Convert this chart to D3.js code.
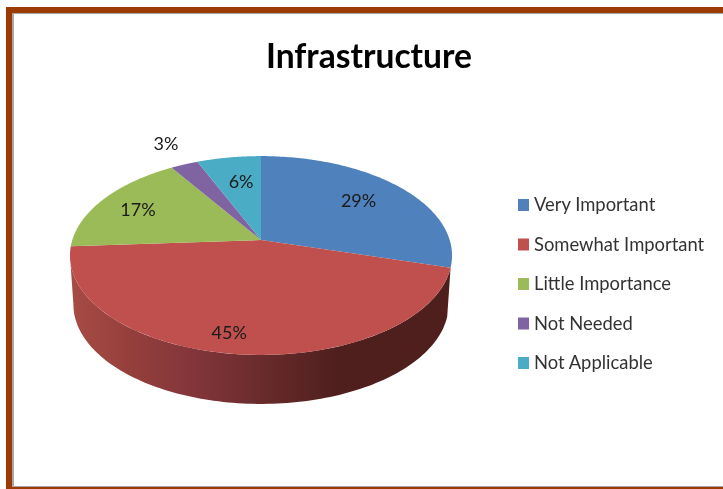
<!DOCTYPE html>
<html><head><meta charset="utf-8">
<script src="https://cdn.jsdelivr.net/npm/d3@7"></script>
<style>html,body{margin:0;padding:0;background:#fff}svg{display:block}text{font-family:Lato,"Open Sans",sans-serif;fill:#1a1a1a}</style>
</head><body><svg width="723" height="489"></svg>
<script>
const categories = ["Very Important","Somewhat Important","Little Importance","Not Needed","Not Applicable"];
const values = [29.4,44.6,17,2.7,6.3];
const labels = ["29%","45%","17%","3%","6%"];
const colors = ["#4F81BD","#C0504D","#9BBB59","#8064A2","#4BACC6"];
const labelRadius = [0.70,0.843,0.758,1.326,0.682];
const labelTurn = [-0.9,3.9,-1.6,0.8,1.5];
const titleText = "Infrastructure";

const svg = d3.select("svg");
const W=723,H=489;
const defs=svg.append("defs");
defs.append("filter").attr("id","soft").append("feGaussianBlur").attr("stdDeviation",0.35);
// frame
svg.append("rect").attr("x",6).attr("y",7).attr("width",W-6).attr("height",H-7).attr("fill","#9C3A06");
svg.append("rect").attr("x",12).attr("y",13).attr("width",W-12).attr("height",474).attr("fill","#a8a8a8");
svg.append("rect").attr("x",14).attr("y",14).attr("width",W-14).attr("height",472).attr("fill","#fff");

const cx=261, apexY=240, R=188.7, S=97, k=0.156, depth=49, shrink=0.982;
function project(a,f,bottom){
  const u=Math.sin(a)*f, v=-Math.cos(a)*f, w=1-k*v;
  const s=bottom?shrink:1;
  return [cx+s*R*u/w, apexY+S*v/w+(bottom?depth:0)];
}
const pie=d3.pie().sort(null).value(d=>d)(values);
const grad=defs.append("linearGradient").attr("id","side").attr("gradientUnits","userSpaceOnUse")
  .attr("x1",69).attr("x2",452).attr("y1",0).attr("y2",0);
[[0,"#A84C45"],[0.16,"#953F3C"],[0.32,"#83363A"],[0.5,"#6A2B2C"],[0.7,"#4F1F1E"],[1,"#4F1F1E"]]
  .forEach(s=>grad.append("stop").attr("offset",s[0]).attr("stop-color",s[1]));

function arcPts(s,e,n=120){
  return d3.range(n+1).map(i=>s+(e-s)*i/n);
}
const line=d3.line();
// rim: the wall of the large slice, ending where the projected disk reaches its left silhouette
const red=pie[1];
const silhouette=Math.PI*1.5-Math.asin(k);
const as=arcPts(red.startAngle,Math.min(red.endAngle,silhouette));
const rim=as.map(a=>project(a,1,false)).concat(as.slice().reverse().map(a=>project(a,1,true)));
svg.append("path").attr("d",line(rim)+"Z").attr("fill","url(#side)");
// tops
pie.forEach((d,i)=>{
  const pts=[[cx,apexY]].concat(arcPts(d.startAngle,d.endAngle).map(a=>project(a,1,false)));
  svg.append("path").attr("d",line(pts)+"Z").attr("fill",colors[i]);
});
const textLayer=svg.append("g").attr("filter","url(#soft)");
// labels
pie.forEach((d,i)=>{
  const mid=(d.startAngle+d.endAngle)/2+labelTurn[i]*Math.PI/180;
  const p=project(mid,labelRadius[i],false);
  textLayer.append("text").attr("x",p[0]).attr("y",p[1]+6.5).attr("text-anchor","middle")
    .attr("font-size",18).text(labels[i]);
});
// title
textLayer.append("text").attr("x",369).attr("y",68).attr("text-anchor","middle")
  .attr("font-size",33.6).attr("font-weight",700).style("fill","#000").text(titleText);
// legend
const ly=d3.scalePoint().domain(categories).range([205,363]);
categories.forEach((c,i)=>{
  svg.append("rect").attr("x",518).attr("y",ly(c)-6).attr("width",11).attr("height",12).attr("fill",colors[i]);
  textLayer.append("text").attr("x",534).attr("y",ly(c)+6).attr("font-size",18.4).style("fill","#333").text(c);
});
</script></body></html>
